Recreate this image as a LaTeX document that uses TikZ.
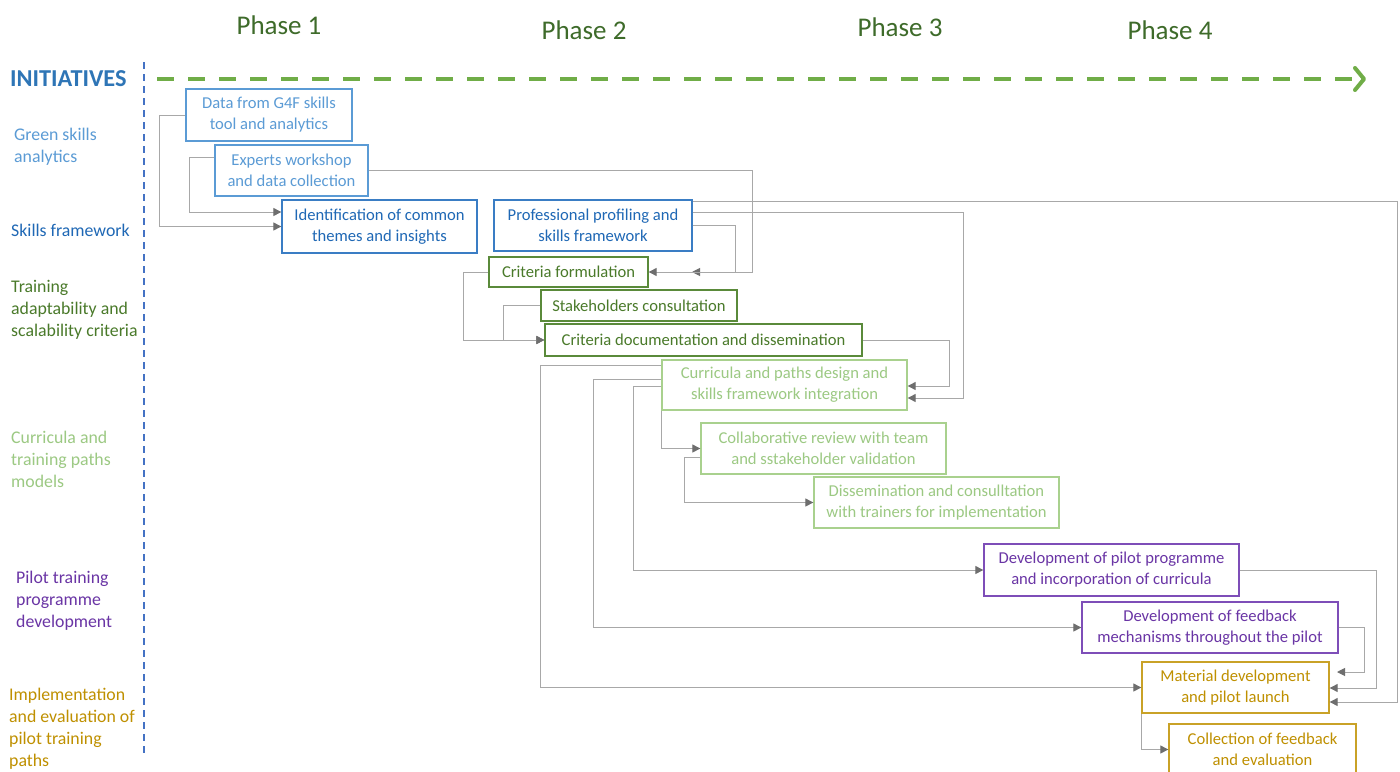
\documentclass[tikz,border=0pt]{standalone}
\usepackage{fontspec}
\setmainfont{Carlito}
\usetikzlibrary{arrows.meta}
\definecolor{lblue}{HTML}{5B9BD5}
\definecolor{dblueb}{HTML}{3A7DC4}
\definecolor{dbluet}{HTML}{1F68B5}
\definecolor{dgreenb}{HTML}{5A8A3A}
\definecolor{dgreent}{HTML}{4A7A2A}
\definecolor{lgreenb}{HTML}{A9D18E}
\definecolor{lgreent}{HTML}{9CC983}
\definecolor{purpb}{HTML}{7E4EB8}
\definecolor{purpt}{HTML}{6A35A5}
\definecolor{goldb}{HTML}{C9A227}
\definecolor{goldt}{HTML}{BF9000}
\definecolor{phasec}{HTML}{3E6B2A}
\definecolor{initc}{HTML}{2E75B6}
\definecolor{linegray}{HTML}{A8A8A8}
\definecolor{tipgray}{HTML}{6E6E6E}
\definecolor{arrgreen}{HTML}{70AD47}
\definecolor{vblue}{HTML}{4472C4}
\begin{document}
\begin{tikzpicture}[x=1pt,y=-1pt,
  bx/.style={draw, line width=1.3pt, fill=white, inner sep=0pt, align=center,
    font=\fontsize{16.6}{21}\selectfont},
  lbl/.style={anchor=west, align=left, inner sep=0pt, font=\fontsize{17.8}{22}\selectfont},
  phase/.style={inner sep=0pt, text=phasec, font=\fontsize{27}{30}\selectfont},
  conn/.style={draw=linegray, line width=1pt,
    -{Triangle[length=8pt,width=8pt,fill=tipgray,color=tipgray]}}]
\clip (0,0) rectangle (1400,771);
\fill[white] (0,0) rectangle (1400,771);

% phase headings
\node[phase] (p1) at (279,25) {Phase 1};
\node[phase] (p2) at (584,30) {Phase 2};
\node[phase] (p3) at (900,27) {Phase 3};
\node[phase] (p4) at (1170,30) {Phase 4};

% initiatives header and timeline
\node[anchor=west, inner sep=0pt, text=initc, font=\fontsize{24.3}{28}\selectfont\bfseries] (init) at (10,79) {INITIATIVES};
\coordinate (tl0) at (157,79);
\coordinate (tl1) at (1366,79);
\draw[arrgreen, line width=4pt, dash pattern=on 17pt off 14pt,
  -{Straight Barb[length=9pt,width=22pt,line width=4pt,line cap=round,line join=round]}] (tl0) -- (tl1);
\coordinate (v0) at (144,62);
\coordinate (v1) at (144,756);
\draw[vblue, line width=2pt, dash pattern=on 7pt off 5pt] (v0) -- (v1);

% left labels
\node[lbl, text=lblue] (lgsa) at (14,147) {Green skills\\analytics};
\node[lbl, text=dbluet] (lsf) at (11,230) {Skills framework};
\node[lbl, text=dgreent] (ltr) at (11,310) {Training\\adaptability and\\scalability criteria};
\node[lbl, text=lgreent] (lcu) at (11,459) {Curricula and\\training paths\\models};
\node[lbl, text=purpt] (lpi) at (16,601) {Pilot training\\programme\\development};
\node[lbl, text=goldt] (lim) at (9,729) {Implementation\\and evaluation of\\pilot training\\paths};

% boxes
\node[bx, draw=lblue, text=lblue, minimum width=166pt, minimum height=52pt] (b1) at (269,115) {Data from G4F skills\\tool and analytics};
\node[bx, draw=lblue, text=lblue, minimum width=153pt, minimum height=51pt] (b2) at (291.5,170.5) {Experts workshop\\and data collection};
\node[bx, draw=dblueb, text=dbluet, minimum width=195pt, minimum height=53pt] (b3) at (379.5,226.5) {Identification of common\\themes and insights};
\node[bx, draw=dblueb, text=dbluet, minimum width=198pt, minimum height=51pt] (b4) at (593,225.5) {Professional profiling and\\skills framework};
\node[bx, draw=dgreenb, text=dgreent, minimum width=159pt, minimum height=30pt] (c1) at (568.5,272) {Criteria formulation};
\node[bx, draw=dgreenb, text=dgreent, minimum width=196pt, minimum height=31pt] (c2) at (639,305.5) {Stakeholders consultation};
\node[bx, draw=dgreenb, text=dgreent, minimum width=317pt, minimum height=32pt] (c3) at (703.5,340) {Criteria documentation and dissemination};
\node[bx, draw=lgreenb, text=lgreent, minimum width=245pt, minimum height=50pt] (d1) at (784.5,385) {Curricula and paths design and\\skills framework integration};
\node[bx, draw=lgreenb, text=lgreent, minimum width=245pt, minimum height=51pt] (d2) at (823.5,448.5) {Collaborative review with team\\and sstakeholder validation};
\node[bx, draw=lgreenb, text=lgreent, minimum width=245pt, minimum height=51pt] (d3) at (936.5,502.5) {Dissemination and consulltation\\with trainers for implementation};
\node[bx, draw=purpb, text=purpt, minimum width=255pt, minimum height=52pt] (e1) at (1111.5,570) {Development of pilot programme\\and incorporation of curricula};
\node[bx, draw=purpb, text=purpt, minimum width=256pt, minimum height=51pt] (e2) at (1210,627.5) {Development of feedback\\mechanisms throughout the pilot};
\node[bx, draw=goldb, text=goldt, minimum width=187pt, minimum height=51pt] (f1) at (1235.5,687.5) {Material development\\and pilot launch};
\node[bx, draw=goldb, text=goldt, minimum width=187pt, minimum height=51pt] (f2) at (1262.5,749.5) {Collection of feedback\\and evaluation};

% free ends
\coordinate (c1free) at (692,272);
\coordinate (f1free) at (1337,672);

% connectors
\draw[conn] (b1.west) -- (159,115) |- (b3.west);
\draw[conn] (b2.west |- 0,157) -- (189,157) |- (b3.west |- 0,212);
\draw[conn] (b2.east) -- (752,170.5) |- (c1free);
\draw[conn] (b4.east |- 0,201) -- (1397,201) |- (f1.east |- 0,702);
\draw[conn] (b4.east |- 0,212) -- (963,212) |- (d1.east |- 0,398);
\draw[conn] (b4.east) -- (735,225.5) |- (c1.east);
\draw[conn] (c1.west) -- (463,272) |- (c3.west);
\draw[conn] (c2.west) -- (503,305.5) |- (c3.west);
\draw[conn] (c3.east) -- (949,340) |- (d1.east |- 0,386);
\draw[conn] (d1.west |- 0,365) -- (540,365) |- (f1.west);
\draw[conn] (d1.west |- 0,379) -- (593,379) |- (e2.west);
\draw[conn] (d1.west |- 0,386) -- (633,386) |- (e1.west);
\draw[conn] (d1.south west) |- (d2.west);
\draw[conn] (d2.west |- 0,457) -- (684,457) |- (d3.west);
\draw[conn] (e1.east) -- (1376,570) |- (f1.east |- 0,688);
\draw[conn] (e2.east) -- (1364,627.5) |- (f1free);
\draw[conn] (f1.south west) |- (f2.west);
\end{tikzpicture}
\end{document}
